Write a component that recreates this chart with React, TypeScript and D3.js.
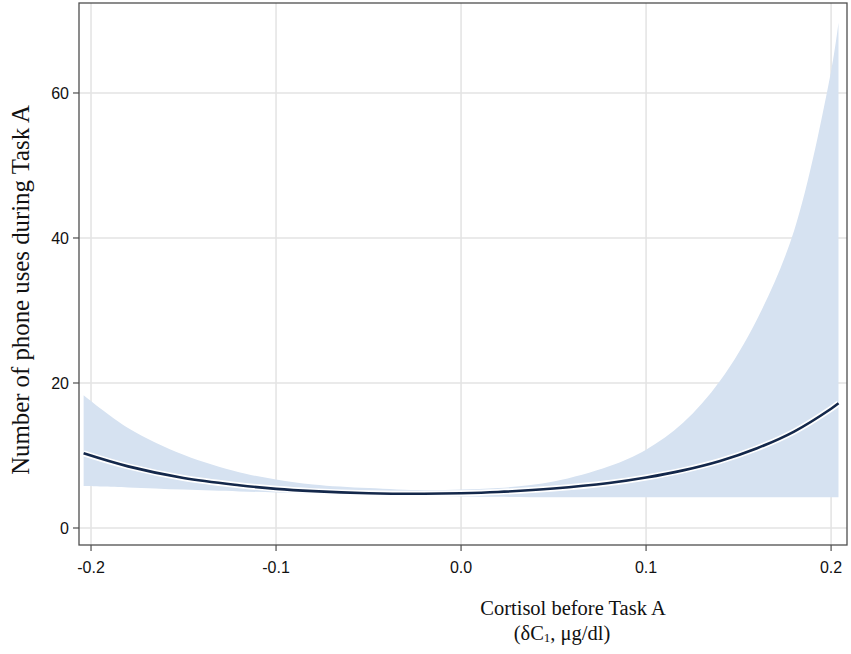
import React from "react";
import * as d3 from "d3";

const xValues = [-0.204, -0.18, -0.15, -0.12, -0.1, -0.08, -0.05, -0.02, 0, 0.02, 0.05, 0.08, 0.1, 0.12, 0.14, 0.16, 0.18, 0.2, 0.204];
const meanValues = [10.3, 8.5, 6.9, 5.9, 5.4, 5.08, 4.8, 4.73, 4.8, 4.97, 5.44, 6.2, 6.96, 7.95, 9.25, 11.0, 13.3, 16.45, 17.2];
const upperValues = [18.3, 13.8, 10.1, 7.7, 6.7, 6.0, 5.5, 5.2, 5.3, 5.5, 6.4, 8.5, 10.8, 14.5, 20.3, 28.8, 41, 63, 69.7];
const lowerValues = [5.8, 5.6, 5.3, 5.05, 4.9, 4.75, 4.55, 4.4, 4.35, 4.3, 4.25, 4.25, 4.25, 4.25, 4.25, 4.25, 4.25, 4.25, 4.25];

const xTicks = [-0.2, -0.1, 0, 0.1, 0.2];
const xTickLabels = ["-0.2", "-0.1", "0.0", "0.1", "0.2"];
const yTicks = [0, 20, 40, 60];

const W = 851;
const H = 654;
const L = 79, R = 847, T = 3, B = 545;

export default function App() {
  const x = d3.scaleLinear().domain([-0.2065, 0.2086]).range([L, R]);
  const y = d3.scaleLinear().domain([-2.345, 72.41]).range([B, T]);

  const rows = xValues.map((v, i) => ({ x: v, m: meanValues[i], u: upperValues[i], l: lowerValues[i] }));
  const area = d3
    .area<any>()
    .x((d) => x(d.x))
    .y0((d) => y(d.l))
    .y1((d) => y(d.u))
    .curve(d3.curveCatmullRom.alpha(0.5));
  const line = d3
    .line<any>()
    .x((d) => x(d.x))
    .y((d) => y(d.m))
    .curve(d3.curveCatmullRom.alpha(0.5));

  const sans = "'Liberation Sans', Arial, sans-serif";
  const serif = "'Liberation Serif', 'Times New Roman', serif";

  return (
    <svg width={W} height={H} style={{ position: "fixed", left: 0, top: 0, background: "#fff" }}>
      <rect x={0} y={0} width={W} height={H} fill="#fff" />
      {xTicks.map((t) => (
        <line key={"gx" + t} x1={x(t)} x2={x(t)} y1={T} y2={B} stroke="#e3e3e3" strokeWidth={1.5} />
      ))}
      {yTicks.map((t) => (
        <line key={"gy" + t} x1={L} x2={R} y1={y(t)} y2={y(t)} stroke="#e3e3e3" strokeWidth={1.5} />
      ))}
      <path d={area(rows) || ""} fill="#d6e2f1" />
      <path d={line(rows) || ""} fill="none" stroke="#ffffff" strokeWidth={6} />
      <path d={line(rows) || ""} fill="none" stroke="#14284b" strokeWidth={2.6} />
      <rect x={L} y={T} width={R - L} height={B - T} fill="none" stroke="#4f4f4f" strokeWidth={1.3} />
      {yTicks.map((t) => (
        <g key={"ty" + t}>
          <line x1={L - 6} x2={L} y1={y(t)} y2={y(t)} stroke="#4f4f4f" strokeWidth={1.2} />
          <text x={L - 10} y={y(t)} dy="0.36em" textAnchor="end" fontFamily={sans} fontSize={16} fill="#111">
            {t}
          </text>
        </g>
      ))}
      {xTicks.map((t, i) => (
        <g key={"tx" + t}>
          <line x1={x(t)} x2={x(t)} y1={B} y2={B + 6} stroke="#4f4f4f" strokeWidth={1.2} />
          <text x={x(t)} y={B + 28} textAnchor="middle" fontFamily={sans} fontSize={16} fill="#111">
            {xTickLabels[i]}
          </text>
        </g>
      ))}
      <text
        transform={`translate(29, 290) rotate(-90)`}
        textAnchor="middle"
        fontFamily={serif}
        fontSize={24.8}
        fill="#111"
      >
        Number of phone uses during Task A
      </text>
      <text x={573} y={615} textAnchor="middle" fontFamily={serif} fontSize={20.5} fill="#111">
        Cortisol before Task A
      </text>
      <text x={562} y={640} textAnchor="middle" fontFamily={serif} fontSize={20.5} fill="#111">
        (δC<tspan fontSize={13} dy={2}>1</tspan>
        <tspan dy={-2}>, μg/dl)</tspan>
      </text>
    </svg>
  );
}
